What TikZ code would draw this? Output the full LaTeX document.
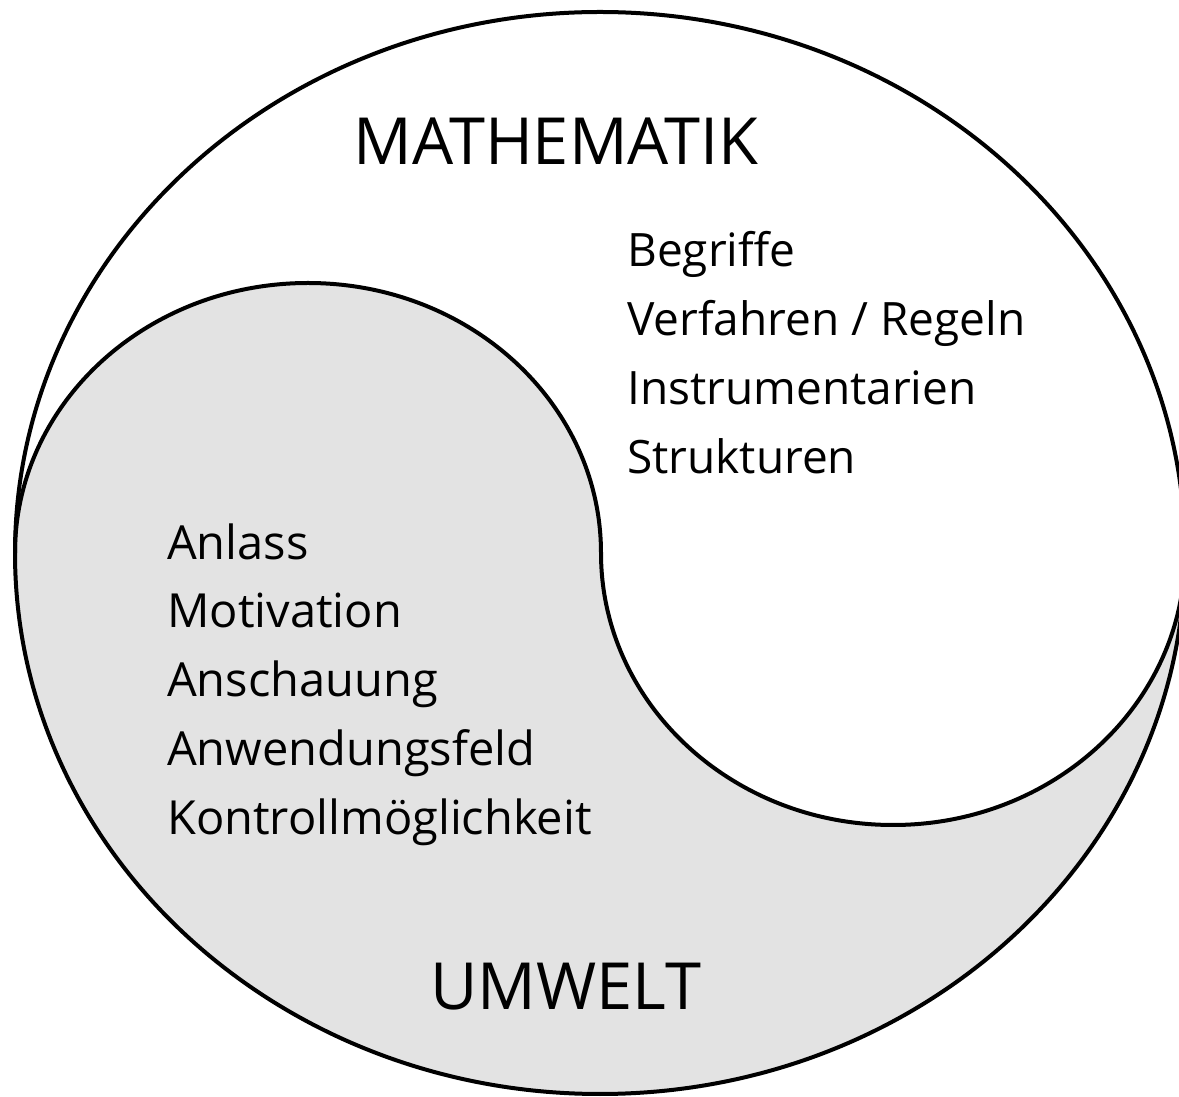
\documentclass[tikz,border=0pt]{standalone}
\usepackage{fontspec}
\setmainfont{Open Sans}
\definecolor{umweltgray}{HTML}{E3E3E3}
\begin{document}
\begin{tikzpicture}[x=1pt, y=1pt,
    outline/.style={line width=4pt},
    title/.style={font=\fontsize{65}{65}\selectfont, inner sep=0pt},
    item/.style={font=\fontsize{46}{46}\selectfont, inner sep=0pt, anchor=base west}
  ]
  \useasboundingbox (0,0) rectangle (1179,1096);
  \clip (0,0) rectangle (1179,1096);
  % Umwelt: whole disc grey, Mathematik part painted white on top
  \fill[umweltgray] (600,543) ellipse [x radius=585, y radius=541];
  \fill[white] (15,543) arc [start angle=180, end angle=0, x radius=293, y radius=270]
    arc [start angle=180, end angle=360, x radius=292, y radius=272]
    arc [start angle=0, end angle=180, x radius=585, y radius=541] -- cycle;
  \draw[outline] (15,543) arc [start angle=180, end angle=0, x radius=293, y radius=270]
    arc [start angle=180, end angle=360, x radius=292, y radius=272];
  \draw[outline] (600,543) ellipse [x radius=585, y radius=541];

  \node[title, anchor=base] (mathe) at (556,931) {MATHEMATIK};
  \node[title, anchor=base] (umwelt) at (566,86) {UMWELT};

  \node[item] (begriffe) at (627,829) {Begriffe};
  \node[item] (verfahren) at (627,760) {Verfahren / Regeln};
  \node[item] (instrumente) at (627,691) {Instrumentarien};
  \node[item] (strukturen) at (627,622) {Strukturen};

  \node[item, font=\fontsize{47}{47}\selectfont] (anlass) at (167,536) {Anlass};
  \node[item, font=\fontsize{47}{47}\selectfont] (motivation) at (167,468) {Motivation};
  \node[item, font=\fontsize{47}{47}\selectfont] (anschauung) at (167,399) {Anschauung};
  \node[item, font=\fontsize{47}{47}\selectfont] (anwendung) at (167,330) {Anwendungsfeld};
  \node[item, font=\fontsize{47}{47}\selectfont] (kontrolle) at (167,261) {Kontrollmöglichkeit};
\end{tikzpicture}
\end{document}
